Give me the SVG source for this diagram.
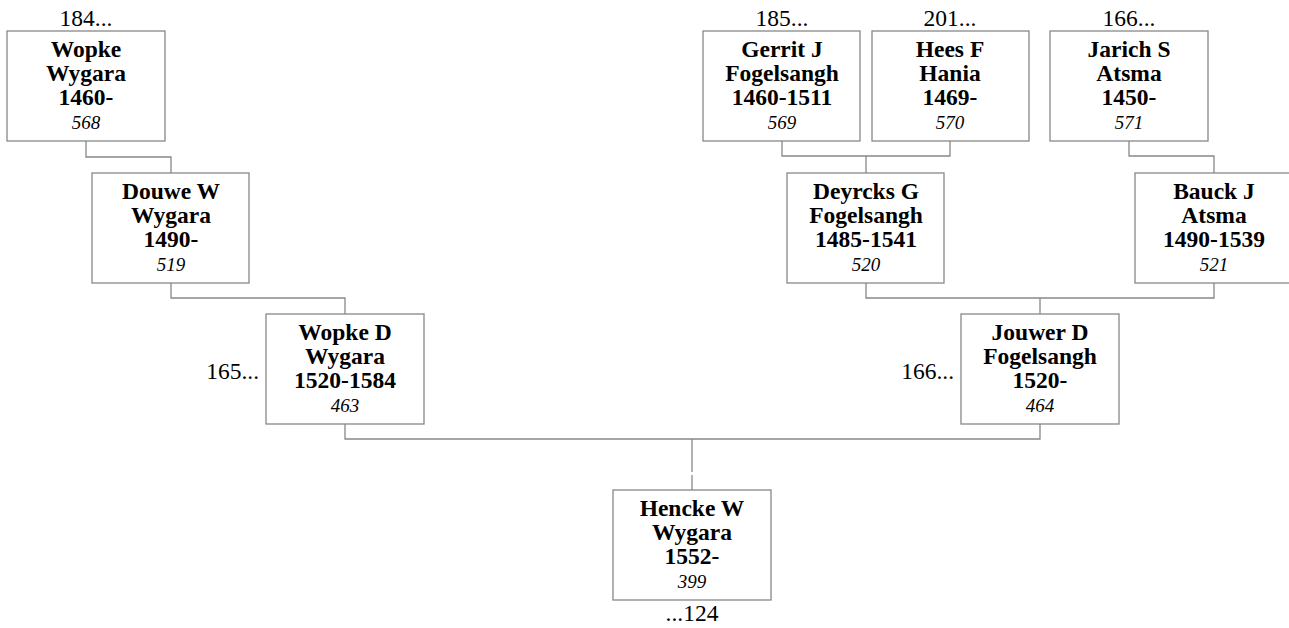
<svg xmlns="http://www.w3.org/2000/svg" width="1289" height="628" viewBox="0 0 1289 628">
<style>
.box{fill:#fff;stroke:#888;stroke-width:1.3}
.n{font-family:"Liberation Serif","Times New Roman",serif;font-weight:bold;font-size:23.5px;text-anchor:middle;fill:#000}
.id{font-family:"Liberation Serif","Times New Roman",serif;font-style:italic;font-size:19px;text-anchor:middle;fill:#000}
.lbl{font-family:"Liberation Serif","Times New Roman",serif;font-size:23.5px;fill:#000}
.c{fill:none;stroke:#888;stroke-width:1.3}
</style>
<rect width="1289" height="628" fill="#fff"/>
<g id="connectors">
<path class="c" d="M86,141V157H171V173"/>
<path class="c" d="M171,283V298H345V314"/>
<path class="c" d="M782,141V156H950V141M866,156V173"/>
<path class="c" d="M1129,141V156H1214V173"/>
<path class="c" d="M866,283V298H1214V283M1040,298V314"/>
<path class="c" d="M345,424V439H1040V424M692,439V472M692,475V490"/>
</g>
<g id="n568">
<rect class="box" x="7" y="31" width="158" height="110"/>
<text class="lbl" x="86" y="26" text-anchor="middle">184...</text>
<text class="n" x="86" y="57">Wopke</text>
<text class="n" x="86" y="81">Wygara</text>
<text class="n" x="86" y="105">1460-</text>
<text class="id" x="86" y="129">568</text>
</g>
<g id="n519">
<rect class="box" x="92" y="173" width="157" height="110"/>
<text class="n" x="171" y="199">Douwe W</text>
<text class="n" x="171" y="223">Wygara</text>
<text class="n" x="171" y="247">1490-</text>
<text class="id" x="171" y="271">519</text>
</g>
<g id="n463">
<rect class="box" x="266" y="314" width="158" height="110"/>
<text class="lbl" x="259" y="379" text-anchor="end">165...</text>
<text class="n" x="345" y="340">Wopke D</text>
<text class="n" x="345" y="364">Wygara</text>
<text class="n" x="345" y="388">1520-1584</text>
<text class="id" x="345" y="412">463</text>
</g>
<g id="n399">
<rect class="box" x="613" y="490" width="158" height="110"/>
<text class="n" x="692" y="516">Hencke W</text>
<text class="n" x="692" y="540">Wygara</text>
<text class="n" x="692" y="564">1552-</text>
<text class="id" x="692" y="588">399</text>
<text class="lbl" x="692" y="621" text-anchor="middle">...124</text>
</g>
<g id="n569">
<rect class="box" x="703" y="31" width="157" height="110"/>
<text class="lbl" x="782" y="26" text-anchor="middle">185...</text>
<text class="n" x="782" y="57">Gerrit J</text>
<text class="n" x="782" y="81">Fogelsangh</text>
<text class="n" x="782" y="105">1460-1511</text>
<text class="id" x="782" y="129">569</text>
</g>
<g id="n570">
<rect class="box" x="872" y="31" width="157" height="110"/>
<text class="lbl" x="950" y="26" text-anchor="middle">201...</text>
<text class="n" x="950" y="57">Hees F</text>
<text class="n" x="950" y="81">Hania</text>
<text class="n" x="950" y="105">1469-</text>
<text class="id" x="950" y="129">570</text>
</g>
<g id="n571">
<rect class="box" x="1050" y="31" width="158" height="110"/>
<text class="lbl" x="1129" y="26" text-anchor="middle">166...</text>
<text class="n" x="1129" y="57">Jarich S</text>
<text class="n" x="1129" y="81">Atsma</text>
<text class="n" x="1129" y="105">1450-</text>
<text class="id" x="1129" y="129">571</text>
</g>
<g id="n520">
<rect class="box" x="787" y="173" width="157" height="110"/>
<text class="n" x="866" y="199">Deyrcks G</text>
<text class="n" x="866" y="223">Fogelsangh</text>
<text class="n" x="866" y="247">1485-1541</text>
<text class="id" x="866" y="271">520</text>
</g>
<g id="n521">
<rect class="box" x="1135" y="173" width="157" height="110"/>
<text class="n" x="1214" y="199">Bauck J</text>
<text class="n" x="1214" y="223">Atsma</text>
<text class="n" x="1214" y="247">1490-1539</text>
<text class="id" x="1214" y="271">521</text>
</g>
<g id="n464">
<rect class="box" x="961" y="314" width="158" height="110"/>
<text class="lbl" x="954" y="379" text-anchor="end">166...</text>
<text class="n" x="1040" y="340">Jouwer D</text>
<text class="n" x="1040" y="364">Fogelsangh</text>
<text class="n" x="1040" y="388">1520-</text>
<text class="id" x="1040" y="412">464</text>
</g>
</svg>
